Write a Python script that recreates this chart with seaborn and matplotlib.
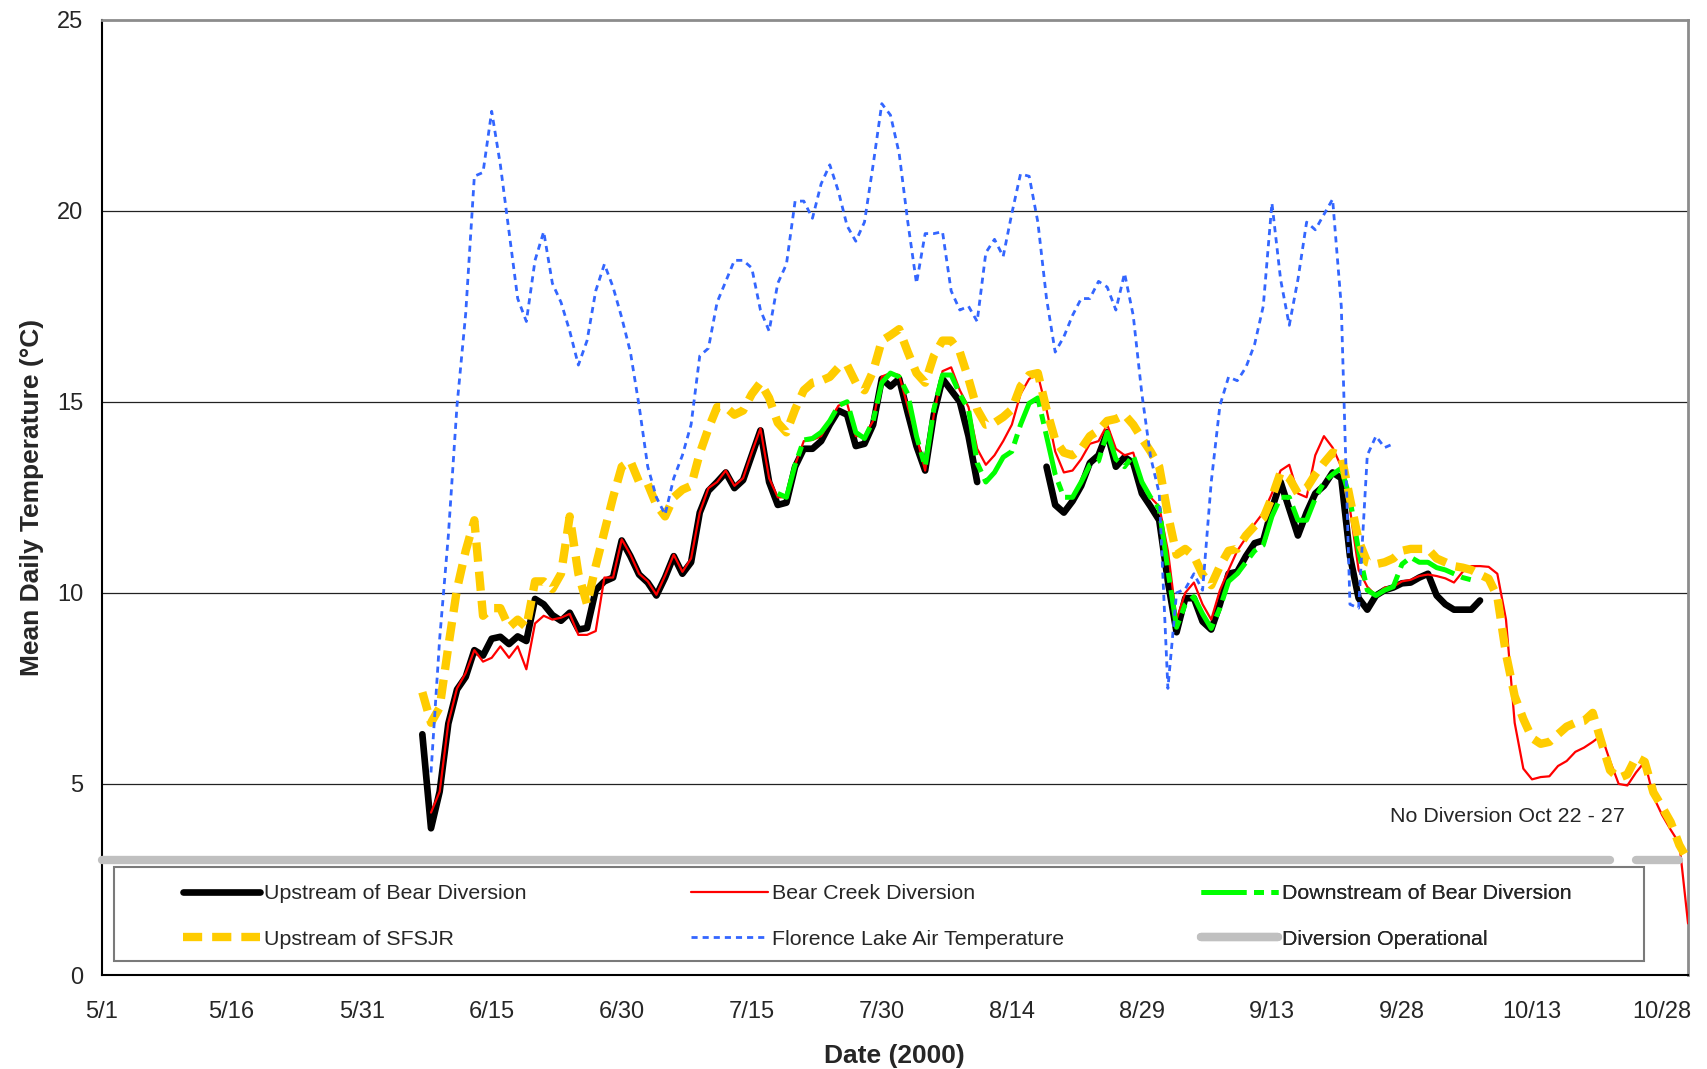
import numpy as np
import pandas as pd
import matplotlib
matplotlib.use("Agg")
import matplotlib.pyplot as plt
from matplotlib.lines import Line2D
from matplotlib.patches import Rectangle
import seaborn as sns

# ---------------- data (day offsets from 2000-05-01) ----------------
start_date = "2000-05-01"

upstream_bear_days_a = list(range(37, 102))
upstream_bear_a = [6.3, 3.84, 4.8, 6.58, 7.47, 7.8, 8.5, 8.36, 8.8, 8.85, 8.66, 8.86, 8.74,
                   9.84, 9.7, 9.42, 9.27, 9.48, 9.04, 9.08, 10.07, 10.3, 10.4, 11.37, 10.96,
                   10.48, 10.27, 9.93, 10.4, 10.96, 10.5, 10.8, 12.1, 12.67, 12.9, 13.15, 12.74,
                   12.95, 13.6, 14.25, 12.9, 12.3, 12.36, 13.3, 13.77, 13.77, 13.97, 14.4, 14.77,
                   14.66, 13.84, 13.9, 14.4, 15.6, 15.4, 15.6, 14.7, 13.84, 13.2, 14.66, 15.6,
                   15.3, 15.0, 14.1, 12.9]
upstream_bear_days_b = list(range(109, 160))
upstream_bear_b = [13.3, 12.3, 12.1, 12.4, 12.8, 13.4, 13.6, 14.2, 13.3, 13.55, 13.4, 12.6,
                   12.26, 11.9, 10.3, 8.97, 9.86, 9.86, 9.25, 9.04, 9.7, 10.5, 10.55, 10.96,
                   11.3, 11.37, 12.2, 12.9, 12.2, 11.5, 12.1, 12.6, 12.8, 13.15, 13.0, 10.96,
                   9.86, 9.56, 9.93, 10.07, 10.14, 10.25, 10.27, 10.4, 10.5, 9.93, 9.7, 9.56,
                   9.56, 9.56, 9.8]

bear_creek_days = list(range(38, 184))
bear_creek = [4.25, 4.8, 6.6, 7.5, 7.9, 8.5, 8.2, 8.3, 8.6, 8.3, 8.6, 8.0, 9.2, 9.4, 9.3, 9.35,
              9.45, 8.9, 8.9, 9.0, 10.4, 10.4, 11.4, 11.0, 10.5, 10.3, 9.95, 10.45, 11.0, 10.55,
              10.9, 12.1, 12.74, 12.9, 13.2, 12.8, 13.0, 13.67, 14.3, 13.0, 12.5, 12.5, 13.35,
              13.97, 14.0, 14.1, 14.5, 14.9, 14.96, 14.1, 14.1, 14.5, 15.66, 15.75, 15.7, 14.86,
              14.1, 13.2, 14.66, 15.8, 15.9, 15.3, 14.86, 13.77, 13.35, 13.6, 13.97, 14.4, 15.2,
              15.6, 15.7, 14.8, 13.7, 13.15, 13.2, 13.5, 13.9, 13.97, 14.4, 13.77, 13.6, 13.67,
              12.9, 12.5, 12.26, 11.1, 9.3, 10.0, 10.27, 9.7, 9.3, 10.07, 10.6, 11.1, 11.44,
              11.8, 12.1, 12.6, 13.2, 13.35, 12.6, 12.5, 13.6, 14.1, 13.8, 13.3, 12.2, 10.6,
              10.16, 9.93, 10.14, 10.16, 10.3, 10.34, 10.44, 10.48, 10.44, 10.38, 10.27, 10.55,
              10.7, 10.7, 10.68, 10.5, 9.3, 6.6, 5.4, 5.12, 5.18, 5.2, 5.47, 5.6, 5.84, 5.95,
              6.1, 6.27, 5.6, 5.0, 4.96, 5.3, 5.58, 4.67, 4.19, 3.8, 3.44, 1.35]

downstream_bear_days = list(range(78, 159))
downstream_bear = [12.6, 12.5, 13.35, 14.0, 14.04, 14.2, 14.5, 14.9, 15.0, 14.2, 14.04, 14.5,
                   15.5, 15.75, 15.65, 15.2, 14.1, 13.3, 14.8, 15.7, 15.7, 15.2, 14.8, 13.4,
                   12.9, 13.15, 13.55, 13.7, 14.4, 14.96, 15.1, 14.1, 13.1, 12.5, 12.5, 12.9,
                   13.35, 13.45, 14.2, 13.5, 13.3, 13.6, 12.9, 12.5, 12.2, 10.6, 9.1, 9.7, 9.9,
                   9.45, 9.07, 9.6, 10.3, 10.5, 10.8, 11.1, 11.25, 12.0, 12.5, 12.5, 11.9, 11.9,
                   12.47, 12.9, 13.1, 13.26, 12.47, 11.1, 10.07, 9.93, 10.07, 10.16, 10.75,
                   10.93, 10.8, 10.8, 10.66, 10.6, 10.5, 10.4, 10.34]

sfsjr_days = list(range(37, 184))
sfsjr = [7.4, 6.6, 7.0, 8.6, 10.1, 11.1, 11.9, 9.4, 9.6, 9.6, 9.1, 9.3, 9.1, 10.3, 10.3, 10.1,
         10.5, 12.0, 10.5, 9.7, 10.7, 11.6, 12.5, 13.3, 13.45, 12.9, 12.85, 12.3, 12.0, 12.5,
         12.7, 12.8, 13.65, 14.3, 14.86, 14.86, 14.66, 14.77, 15.2, 15.5, 15.1, 14.45, 14.2,
         14.8, 15.3, 15.5, 15.55, 15.65, 15.9, 15.96, 15.5, 15.3, 15.8, 16.6, 16.74, 16.9,
         16.3, 15.75, 15.5, 16.2, 16.6, 16.6, 16.3, 15.6, 14.8, 14.4, 14.45, 14.6, 14.8, 15.4,
         15.7, 15.75, 14.8, 14.0, 13.67, 13.6, 13.77, 14.1, 14.25, 14.5, 14.55, 14.66, 14.4,
         14.04, 13.7, 13.3, 12.05, 11.0, 11.15, 10.96, 10.48, 10.2, 10.7, 11.1, 11.15, 11.5,
         11.75, 11.95, 12.5, 13.15, 13.0, 12.6, 12.74, 13.1, 13.4, 13.67, 13.6, 12.47, 11.37,
         10.8, 10.75, 10.8, 10.9, 11.1, 11.15, 11.15, 11.15, 10.9, 10.8, 10.7, 10.66, 10.6,
         10.48, 10.37, 9.9, 8.4, 7.3, 6.7, 6.2, 6.05, 6.1, 6.3, 6.5, 6.6, 6.65, 6.86, 6.1,
         5.36, 5.15, 5.25, 5.7, 5.58, 4.78, 4.4, 4.0, 3.4, 3.0]

florence_days = list(range(38, 150))
florence_air = [5.3, 8.8, 11.5, 14.9, 17.3, 20.9, 21.0, 22.6, 21.2, 19.45, 17.7, 17.1, 18.7,
                19.45, 18.1, 17.6, 16.85, 15.96, 16.6, 17.9, 18.6, 18.0, 17.2, 16.3, 14.9, 13.3,
                12.5, 12.05, 13.0, 13.6, 14.4, 16.2, 16.4, 17.6, 18.15, 18.7, 18.7, 18.5, 17.4,
                16.85, 18.1, 18.6, 20.25, 20.25, 19.8, 20.7, 21.2, 20.5, 19.6, 19.2, 19.7, 21.2,
                22.8, 22.5, 21.5, 19.7, 18.1, 19.4, 19.4, 19.45, 17.9, 17.4, 17.5, 17.1, 18.9,
                19.25, 18.8, 19.93, 20.96, 20.9, 19.7, 17.7, 16.3, 16.7, 17.26, 17.7, 17.7,
                18.15, 18.0, 17.4, 18.36, 17.26, 15.2, 13.56, 12.6, 7.5, 10.0, 10.1, 10.5,
                10.07, 12.9, 14.9, 15.65, 15.55, 15.9, 16.5, 17.5, 20.2, 18.2, 17.0, 18.2, 19.7,
                19.5, 19.9, 20.3, 17.5, 9.7, 9.6, 13.6, 14.1, 13.8, 13.9]

diversion_days_a = [0, 174]
diversion_days_b = [177, 182]
diversion_level = 3.0

tick_labels = ["5/1", "5/16", "5/31", "6/15", "6/30", "7/15", "7/30", "8/14", "8/29",
               "9/13", "9/28", "10/13", "10/28"]

series_names = ["Upstream of Bear Diversion", "Bear Creek Diversion",
                "Downstream of Bear Diversion", "Upstream of SFSJR",
                "Florence Lake Air Temperature", "Diversion Operational"]

# ---------------- helpers ----------------
base = pd.Timestamp(start_date)


def to_dates(days):
    return base + pd.to_timedelta(np.asarray(days, dtype=float), unit="D")


def frame(days, vals):
    return pd.DataFrame({"date": to_dates(days), "temp": vals})


sns.set_style("white")
plt.rcParams["font.family"] = ["Liberation Sans", "DejaVu Sans"]

fig = plt.figure(figsize=(17.07, 10.69), dpi=100)
ax = fig.add_axes([0.0595, 0.0879, 0.9294, 0.8938])

c_black = "#000000"
c_red = "#FF0000"
c_green = "#00FF00"
c_yellow = "#FFCC00"
c_blue = "#3366FF"
c_gray = "#C0C0C0"

black_kw = dict(color=c_black, lw=4.8, solid_joinstyle="round", solid_capstyle="round", zorder=3)
red_kw = dict(color=c_red, lw=1.6, zorder=3.1)
green_kw = dict(color=c_green, lw=3.6, linestyle=(0, (9, 1.5, 2, 1.5)), zorder=3.2)
yellow_kw = dict(color=c_yellow, lw=6.0, linestyle=(0, (2.3, 1.2)), dash_capstyle="butt", zorder=3.3)
blue_kw = dict(color=c_blue, lw=2.0, linestyle=(0, (2.2, 1.8)), zorder=3.4)
gray_kw = dict(color=c_gray, lw=6.0, solid_capstyle="round", zorder=3.5)

for d, v in [(upstream_bear_days_a, upstream_bear_a), (upstream_bear_days_b, upstream_bear_b)]:
    sns.lineplot(data=frame(d, v), x="date", y="temp", ax=ax, estimator=None, **black_kw)
sns.lineplot(data=frame(bear_creek_days, bear_creek), x="date", y="temp", ax=ax,
             estimator=None, **red_kw)
sns.lineplot(data=frame(downstream_bear_days, downstream_bear), x="date", y="temp", ax=ax,
             estimator=None, **green_kw)
sns.lineplot(data=frame(sfsjr_days, sfsjr), x="date", y="temp", ax=ax,
             estimator=None, **yellow_kw)
sns.lineplot(data=frame(florence_days, florence_air), x="date", y="temp", ax=ax,
             estimator=None, **blue_kw)
for d in (diversion_days_a, diversion_days_b):
    sns.lineplot(data=frame(d, [diversion_level] * len(d)), x="date", y="temp", ax=ax,
                 estimator=None, clip_on=False, **gray_kw)

# ---------------- axes ----------------
ax.set_xlim(base, base + pd.Timedelta(days=183))
ax.set_ylim(0, 25)
ax.set_xticks(to_dates(np.arange(0, 181, 15)))
ax.set_xticklabels(tick_labels)
ax.set_xticks(to_dates(np.arange(0, 184, 1)), minor=True)
ax.set_yticks(np.arange(0, 26, 5))
ax.set_yticks(np.arange(0, 26, 1), minor=True)

ax.tick_params(axis="x", which="major", direction="inout", length=10, width=1.0,
               labelsize=17, pad=13.5, color="black")
ax.tick_params(axis="x", which="minor", direction="inout", length=6, width=0.8, color="black")
ax.tick_params(axis="y", which="major", direction="inout", length=9, width=1.0,
               labelsize=17, pad=8.5, color="black")
ax.tick_params(axis="y", which="minor", direction="inout", length=8, width=0.8, color="black")

ax.grid(False)
ax.set_axisbelow(True)
for yv in [5, 10, 15, 20]:
    ax.axhline(yv, color="#222222", lw=0.9, zorder=1)

for s in ["left", "bottom"]:
    ax.spines[s].set_color("black")
    ax.spines[s].set_linewidth(1.5)
for s in ["top", "right"]:
    ax.spines[s].set_color("#8c8c8c")
    ax.spines[s].set_linewidth(2.0)

ax.set_xlabel("Date (2000)", fontsize=19, fontweight="bold")
ax.set_ylabel("Mean Daily Temperature (\u00b0C)", fontsize=19, fontweight="bold")
ax.xaxis.set_label_coords(0.5, -0.0725)
ax.yaxis.set_label_coords(-0.036, 0.5)

ax.text(base + pd.Timedelta(days=162.2), 4.15, "No Diversion Oct 22 - 27",
        ha="center", va="center", fontsize=15.4, zorder=6)

# ---------------- legend ----------------
box = Rectangle((0.0079, 0.01465), 0.9644, 0.0984, transform=ax.transAxes,
                facecolor="white", edgecolor="#7a7a7a", lw=1.5, zorder=5)
ax.add_patch(box)

h_black = Line2D([], [], **{k: v for k, v in black_kw.items() if k != "zorder"})
h_red = Line2D([], [], **{k: v for k, v in red_kw.items() if k != "zorder"})
h_green = Line2D([], [], **{k: v for k, v in green_kw.items() if k != "zorder"})
h_yellow = Line2D([], [], **{k: v for k, v in yellow_kw.items() if k != "zorder"})
h_blue = Line2D([], [], **{k: v for k, v in blue_kw.items() if k != "zorder"})
h_gray = Line2D([], [], **{k: v for k, v in gray_kw.items() if k != "zorder"})

columns = [((h_black, h_yellow), (series_names[0], series_names[3]), 0.0514),
           ((h_red, h_blue), (series_names[1], series_names[4]), 0.3716),
           ((h_green, h_gray), (series_names[2], series_names[5]), 0.6930)]
for handles, labels, xpos in columns:
    leg = ax.legend(list(handles), list(labels), loc="center left",
                    bbox_to_anchor=(xpos, 0.0613), bbox_transform=ax.transAxes,
                    frameon=False, borderpad=0, borderaxespad=0, handlelength=3.6,
                    handletextpad=0.2, labelspacing=1.25, fontsize=15.4)
    leg.set_zorder(6)
    ax.add_artist(leg)

fig.savefig("out.png", dpi=100)
